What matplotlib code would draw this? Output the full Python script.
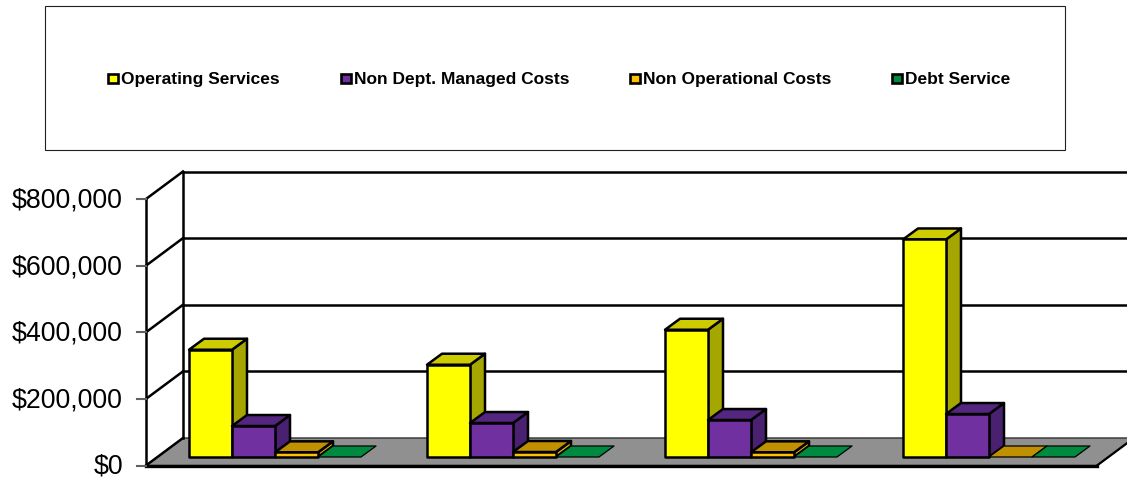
import matplotlib
matplotlib.use("Agg")
import matplotlib.pyplot as plt
from matplotlib.patches import Polygon, Rectangle

plt.rcParams["font.family"] = ["Liberation Sans", "DejaVu Sans"]

# valores
series = ["Operating Services", "Non Dept. Managed Costs", "Non Operational Costs", "Debt Service"]
operating = [322000, 277000, 382000, 653000]
non_dept = [93000, 102000, 111000, 129000]
non_oper = [14000, 15000, 14000, 0]
debt = [0, 0, 0, 0]
tick_values = [0, 200000, 400000, 600000, 800000]

front = ["#FFFF00", "#7030A0", "#FFC000", "#008A40"]
top = ["#CCCC00", "#542680", "#C09000", "#008A40"]
side = ["#A6A600", "#4A2070", "#E0A800", "#006830"]

# escala del eje y: pixeles por dolar
k = 266.5 / 800000
W, H = 1127, 479
y0_px = 465.5

def dy(px):
    return px / k

fig = plt.figure(figsize=(W / 100, H / 100), dpi=100)
ax = fig.add_axes([0, 0, 1, 1])
ax.set_xlim(0, W)
ax.set_ylim(dy(y0_px - H), dy(y0_px))
ax.axis("off")

lw = 1.8

# piso
floor = Polygon([(146, 0), (183, dy(27.5)), (1134, dy(27.5)), (1097, 0)],
                facecolor="#909090", edgecolor="#303030", lw=1.0, zorder=1)
ax.add_patch(floor)
ax.plot([146, 1097], [0, 0], color="black", lw=2.4, zorder=2)
ax.plot([1097, 1134], [0, dy(27.5)], color="black", lw=1.6, zorder=2)

# paredes y grilla
ax.plot([146, 146], [0, 800000], color="black", lw=lw, zorder=2)
ax.plot([183, 183], [dy(27.5), 800000 + dy(27.5)], color="black", lw=lw, zorder=2)
for v in tick_values:
    back = v + dy(27.5)
    ax.plot([146, 183], [v, back], color="black", lw=lw, zorder=2)
    if v > 0:
        ax.plot([183, W], [back, back], color="black", lw=lw, zorder=2)
    ax.plot([137, 146], [v, v], color="#606060", lw=1.5, zorder=2)
    ax.text(123, v - dy(1.5), f"${v:,}", ha="right", va="center", fontsize=19.3, color="black")

# barras
bar_w = 43
start = 189
step = 238
base = dy(8.5)
ddx, ddy = 15, dy(11)
for c in range(4):
    values = [operating[c], non_dept[c], non_oper[c], debt[c]]
    for s, v in enumerate(values):
        x = start + c * step + s * bar_w
        t = base + v
        z = 5 + s
        # las barras en cero se ven como un cuadro plano con borde fino
        edge = lw if v > 0 else 0.9
        if v > 0:
            ax.add_patch(Polygon([(x + bar_w, base), (x + bar_w + ddx, base + ddy),
                                  (x + bar_w + ddx, t + ddy), (x + bar_w, t)],
                                 facecolor=side[s], edgecolor="black", lw=edge, joinstyle="round", zorder=z))
        ax.add_patch(Polygon([(x, t), (x + ddx, t + ddy), (x + bar_w + ddx, t + ddy), (x + bar_w, t)],
                             facecolor=top[s], edgecolor="black", lw=edge, joinstyle="round", zorder=z))
        if v > 0:
            ax.add_patch(Rectangle((x, base), bar_w, v, facecolor=front[s], edgecolor="black",
                                   lw=edge, joinstyle="round", zorder=z))

# caja de leyenda
ax.add_patch(Rectangle((45, dy(y0_px - 150)), 1020, dy(144), facecolor="white",
                       edgecolor="#202020", lw=0.8, zorder=3))
leg_x = [108, 341, 630, 892]
leg_y = dy(y0_px - 78)
for name, x, col in zip(series, leg_x, front):
    ax.add_patch(Rectangle((x, leg_y - dy(4.5)), 9.5, dy(9), facecolor=col,
                           edgecolor="black", lw=1.9, zorder=4))
    ax.text(x + 13, leg_y, name, ha="left", va="center_baseline", fontsize=12.55,
            fontweight="bold", color="black", zorder=4)

fig.savefig("out.png", dpi=100)
